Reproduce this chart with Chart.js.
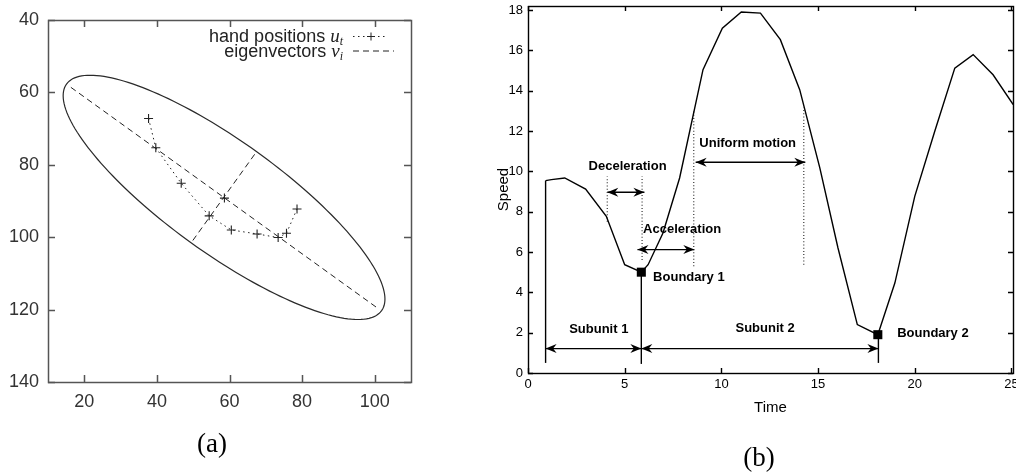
<!DOCTYPE html>
<html><head><meta charset="utf-8">
<script src="https://cdn.jsdelivr.net/npm/chart.js@4"></script>
<style>
html,body{margin:0;padding:0;width:1016px;height:473px;overflow:hidden;background:#fff;position:relative}
canvas{position:absolute}
#ca{left:0;top:0}
#cb{left:490px;top:-10px}
.cap{position:absolute;font-family:"Liberation Serif","Times New Roman",serif;font-size:27px;color:#000;transform:translate(-50%,-50%);line-height:1;white-space:nowrap}
</style></head><body>
<canvas id="ca" width="420" height="473"></canvas>
<canvas id="cb" width="540" height="483"></canvas>
<div class="cap" style="left:212px;top:443px">(a)</div>
<div class="cap" style="left:759px;top:457px">(b)</div>
<script>
// ---------- Panel (a) data ----------
const handX = [37.7, 39.7, 46.7, 54.4, 60.5, 67.6, 73.4, 75.7, 78.6];
const handY = [67.2, 75.3, 85.1, 94.1, 98.0, 99.1, 100.1, 98.9, 92.2];
const meanX = [58.6];
const meanY = [89.2];
const majorAxisX = [16.3, 100.8];
const majorAxisY = [58.6, 119.6];
const minorAxisX = [49.9, 67.0];
const minorAxisY = [100.9, 77.0];
const ellipseCenter = [58.5, 89.0];
const ellipseSemiMajor = [43.4, 31.3];
const ellipseSemiMinor = [9.0, -12.6];
const xTicksA = [20, 40, 60, 80, 100];
const yTicksA = [40, 60, 80, 100, 120, 140];
const legendLabels = ['hand positions', 'eigenvectors'];
const legendSymbols = ['u', 'v'];
const legendSubs = ['t', 'i'];

// ---------- Panel (b) data ----------
const speedT = [0.91, 1.21, 1.90, 2.98, 4.05, 5.0, 5.86, 6.21, 6.98, 7.84, 9.05, 10.05, 11.03, 12.02, 13.05, 14.05, 15.09, 16.03, 17.03, 18.09, 18.97, 20.0, 21.03, 22.07, 23.02, 24.05, 25.09];
const speedV = [9.54, 9.59, 9.67, 9.12, 7.77, 5.37, 5.0, 5.37, 6.94, 9.67, 15.04, 17.1, 17.9, 17.85, 16.53, 14.05, 10.17, 6.2, 2.4, 1.9, 4.46, 8.76, 11.98, 15.12, 15.79, 14.79, 13.31];
const boundaryT = [5.86, 18.09];
const boundaryV = [5.0, 1.9];
const solidLineT = [0.91, 5.86, 18.12];
const solidLineFrom = [0.5, 0.45, 0.5];
const solidLineTo = [9.54, 5.0, 1.9];
const dottedLineT = [4.1, 5.9, 8.57, 14.26];
const dottedLineFrom = [7.5, 5.6, 5.3, 5.37];
const dottedLineTo = [9.75, 9.75, 13.05, 13.15];
const arrowFrom = [0.91, 5.86, 4.1, 5.66, 8.67];
const arrowTo = [5.86, 18.12, 6.02, 8.6, 14.34];
const arrowV = [1.21, 1.21, 8.96, 6.12, 10.45];
const noteText = ['Deceleration', 'Acceleration', 'Uniform motion', 'Boundary 1', 'Boundary 2', 'Subunit 1', 'Subunit 2'];
const noteT = [5.15, 7.97, 11.36, 6.47, 19.09, 3.66, 12.26];
const noteV = [10.25, 7.14, 11.4, 4.74, 1.98, 2.15, 2.23];
const noteAlign = ['center', 'center', 'center', 'left', 'left', 'center', 'center'];
const xTicksB = [0, 5, 10, 15, 20, 25];
const yTicksB = [0, 2, 4, 6, 8, 10, 12, 14, 16, 18];

// ---------- shared plugins ----------
const frameTicks = {
  id: 'frameTicks',
  afterDraw(chart, args, opts) {
    const {ctx, chartArea: a, scales: {x, y}} = chart;
    ctx.save();
    ctx.strokeStyle = opts.color; ctx.lineWidth = opts.width;
    ctx.beginPath();
    x.ticks.forEach(t => {
      const px = Math.round(x.getPixelForValue(t.value)) + 0.5;
      ctx.moveTo(px, a.bottom); ctx.lineTo(px, a.bottom - opts.len);
      ctx.moveTo(px, a.top); ctx.lineTo(px, a.top + opts.len);
    });
    y.ticks.forEach(t => {
      const py = Math.round(y.getPixelForValue(t.value)) + 0.5;
      ctx.moveTo(a.left, py); ctx.lineTo(a.left + opts.len, py);
      ctx.moveTo(a.right, py); ctx.lineTo(a.right - opts.len, py);
    });
    ctx.stroke();
    ctx.strokeRect(Math.round(a.left) + 0.5, Math.round(a.top) + 0.5, Math.round(a.right - a.left), Math.round(a.bottom - a.top));
    ctx.restore();
  }
};

const ellipsePlugin = {
  id: 'ellipse',
  beforeDatasetsDraw(chart) {
    const {ctx, scales: {x, y}} = chart;
    const cx = x.getPixelForValue(ellipseCenter[0]), cy = y.getPixelForValue(ellipseCenter[1]);
    const ax = x.getPixelForValue(ellipseCenter[0] + ellipseSemiMajor[0]) - cx;
    const ay = y.getPixelForValue(ellipseCenter[1] + ellipseSemiMajor[1]) - cy;
    const bx = x.getPixelForValue(ellipseCenter[0] + ellipseSemiMinor[0]) - cx;
    const by = y.getPixelForValue(ellipseCenter[1] + ellipseSemiMinor[1]) - cy;
    ctx.save();
    ctx.strokeStyle = '#2a2a2a'; ctx.lineWidth = 1.2;
    ctx.beginPath();
    const n = 180;
    for (let i = 0; i <= n; i++) {
      const th = 2 * Math.PI * i / n;
      const px = cx + Math.cos(th) * ax + Math.sin(th) * bx;
      const py = cy + Math.cos(th) * ay + Math.sin(th) * by;
      if (i === 0) ctx.moveTo(px, py); else ctx.lineTo(px, py);
    }
    ctx.closePath(); ctx.stroke();
    ctx.restore();
  }
};

const legendPlugin = {
  id: 'legendA',
  afterDraw(chart) {
    const ctx = chart.ctx;
    const textEnd = 343;
    const base = [42, 56.5];
    const sampleY = [36.5, 51];
    ctx.save();
    ctx.fillStyle = '#222';
    legendLabels.forEach((lab, i) => {
      ctx.font = 'italic 12px "Liberation Serif"';
      const wSub = ctx.measureText(legendSubs[i]).width;
      ctx.font = 'italic 19px "Liberation Serif"';
      const wSym = ctx.measureText(legendSymbols[i]).width;
      const xSub = textEnd - wSub;
      const xSym = xSub - wSym;
      ctx.textAlign = 'left'; ctx.textBaseline = 'alphabetic';
      ctx.fillText(legendSymbols[i], xSym, base[i]);
      ctx.font = 'italic 12px "Liberation Serif"';
      ctx.fillText(legendSubs[i], xSub, base[i] + 3);
      ctx.font = '18px "Liberation Sans"';
      ctx.textAlign = 'right';
      ctx.fillText(lab, xSym - 5, base[i]);
    });
    // samples
    ctx.strokeStyle = '#222'; ctx.lineWidth = 1;
    ctx.setLineDash([1.5, 3.5]);
    ctx.beginPath(); ctx.moveTo(353, sampleY[0]); ctx.lineTo(388, sampleY[0]); ctx.stroke();
    ctx.setLineDash([]);
    ctx.beginPath(); ctx.moveTo(367, sampleY[0]); ctx.lineTo(375, sampleY[0]); ctx.moveTo(371, sampleY[0] - 4); ctx.lineTo(371, sampleY[0] + 4); ctx.stroke();
    ctx.setLineDash([6, 4]);
    ctx.beginPath(); ctx.moveTo(353, sampleY[1]); ctx.lineTo(394, sampleY[1]); ctx.stroke();
    ctx.restore();
  }
};

const arrowPlugin = {
  id: 'arrows',
  afterDatasetsDraw(chart) {
    const ctx = chart.ctx;
    ctx.save();
    ctx.fillStyle = '#000';
    chart.data.datasets.forEach((ds, i) => {
      if (!ds.arrowHeads) return;
      const pts = chart.getDatasetMeta(i).data;
      const p0 = pts[0], p1 = pts[1];
      const head = (tip, from) => {
        let dx = tip.x - from.x, dy = tip.y - from.y;
        const L = Math.hypot(dx, dy) || 1; dx /= L; dy /= L;
        const len = 11, hw = 4.5, notch = 7.5;
        ctx.beginPath();
        ctx.moveTo(tip.x, tip.y);
        ctx.lineTo(tip.x - dx * len - dy * hw, tip.y - dy * len + dx * hw);
        ctx.lineTo(tip.x - dx * notch, tip.y - dy * notch);
        ctx.lineTo(tip.x - dx * len + dy * hw, tip.y - dy * len - dx * hw);
        ctx.closePath(); ctx.fill();
      };
      head(p0, p1); head(p1, p0);
    });
    ctx.restore();
  }
};

const notesPlugin = {
  id: 'notes',
  afterDatasetsDraw(chart) {
    const {ctx, scales: {x, y}} = chart;
    ctx.save();
    ctx.fillStyle = '#000';
    ctx.font = 'bold 13px "Liberation Sans"';
    ctx.textBaseline = 'middle';
    noteText.forEach((t, i) => {
      ctx.textAlign = noteAlign[i];
      ctx.fillText(t, x.getPixelForValue(noteT[i]), y.getPixelForValue(noteV[i]));
    });
    ctx.restore();
  }
};

// ---------- Chart (a) ----------
const pts = (xs, ys) => xs.map((v, i) => ({x: v, y: ys[i]}));
new Chart(document.getElementById('ca'), {
  type: 'scatter',
  data: {
    datasets: [
      {label: legendLabels[0], data: pts(handX, handY), showLine: true, borderColor: '#222', borderWidth: 1,
       borderDash: [1.5, 3.5], pointStyle: 'cross', pointRadius: 4.5, pointBorderWidth: 1.1, pointBorderColor: '#222', tension: 0},
      {label: legendLabels[1], data: pts(majorAxisX, majorAxisY), showLine: true, borderColor: '#222', borderWidth: 1,
       borderDash: [6, 4], pointRadius: 0},
      {label: legendLabels[1] + ' (2)', data: pts(minorAxisX, minorAxisY), showLine: true, borderColor: '#222', borderWidth: 1,
       borderDash: [6, 4], pointRadius: 0},
      {label: 'mean', data: pts(meanX, meanY), showLine: false, pointStyle: 'cross', pointRadius: 4.5,
       pointBorderWidth: 1.1, pointBorderColor: '#222'}
    ]
  },
  options: {
    responsive: false, animation: false, devicePixelRatio: 1,
    layout: {padding: {left: 0, top: 20, right: 9, bottom: 51}},
    plugins: {legend: {display: false}, tooltip: {enabled: false},
      frameTicks: {color: '#555', width: 1.5, len: 7}},
    scales: {
      x: {type: 'linear', min: 10, max: 110,
        grid: {display: false, drawTicks: false}, border: {display: false},
        afterBuildTicks: s => { s.ticks = xTicksA.map(v => ({value: v})); },
        afterFit: s => { s.height = 40; },
        ticks: {padding: 9, color: '#333', font: {family: 'Liberation Sans', size: 18}, maxRotation: 0}},
      y: {type: 'linear', min: 40, max: 140, reverse: true,
        grid: {display: false, drawTicks: false}, border: {display: false},
        afterBuildTicks: s => { s.ticks = yTicksA.map(v => ({value: v})); },
        afterFit: s => { s.width = 48; },
        ticks: {padding: 9, color: '#333', font: {family: 'Liberation Sans', size: 18}}}
    }
  },
  plugins: [ellipsePlugin, frameTicks, legendPlugin]
});

// ---------- Chart (b) ----------
const seg = (t, a, b) => [{x: t, y: a}, {x: t, y: b}];
const dsB = [
  {label: 'Speed', data: pts(speedT, speedV), showLine: true, borderColor: '#000', borderWidth: 1.4, pointRadius: 0, tension: 0}
];
solidLineT.forEach((t, i) => dsB.push({label: 'boundary line ' + (i + 1), data: seg(t, solidLineFrom[i], solidLineTo[i]),
  showLine: true, borderColor: '#000', borderWidth: 1.4, pointRadius: 0}));
dottedLineT.forEach((t, i) => dsB.push({label: 'phase marker ' + (i + 1), data: seg(t, dottedLineFrom[i], dottedLineTo[i]),
  showLine: true, borderColor: '#444', borderWidth: 1.3, borderDash: [1, 2.2], pointRadius: 0}));
arrowFrom.forEach((a, i) => dsB.push({label: 'arrow ' + (i + 1), data: [{x: a, y: arrowV[i]}, {x: arrowTo[i], y: arrowV[i]}],
  showLine: true, borderColor: '#000', borderWidth: 1.4, pointRadius: 0, arrowHeads: true}));
dsB.push({label: 'Boundaries', data: pts(boundaryT, boundaryV), showLine: false, pointStyle: 'rect', pointRadius: 6.4,
  backgroundColor: '#000', borderColor: '#000', pointBorderWidth: 0});

new Chart(document.getElementById('cb'), {
  type: 'scatter',
  data: {datasets: dsB},
  options: {
    responsive: false, animation: false, devicePixelRatio: 1,
    layout: {padding: {left: 0, top: 16, right: 17, bottom: 52}},
    plugins: {legend: {display: false}, tooltip: {enabled: false},
      frameTicks: {color: '#000', width: 1.4, len: 5}},
    scales: {
      x: {type: 'linear', min: 0, max: 25.08,
        grid: {display: false, drawTicks: false}, border: {display: false},
        afterBuildTicks: s => { s.ticks = xTicksB.map(v => ({value: v})); },
        afterFit: s => { s.height = 48; },
        title: {display: true, text: 'Time', color: '#000', font: {family: 'Liberation Sans', size: 15}, padding: {top: 4, bottom: 4}},
        ticks: {padding: 4, color: '#000', font: {family: 'Liberation Sans', size: 13}, maxRotation: 0}},
      y: {type: 'linear', min: 0, max: 18.2,
        grid: {display: false, drawTicks: false}, border: {display: false},
        afterBuildTicks: s => { s.ticks = yTicksB.map(v => ({value: v})); },
        afterFit: s => { s.width = 38; },
        title: {display: true, text: 'Speed', color: '#000', font: {family: 'Liberation Sans', size: 15}, padding: {top: 5, bottom: 4}},
        ticks: {padding: 5, color: '#000', font: {family: 'Liberation Sans', size: 13}}}
    }
  },
  plugins: [frameTicks, arrowPlugin, notesPlugin]
});
</script>
</body></html>
